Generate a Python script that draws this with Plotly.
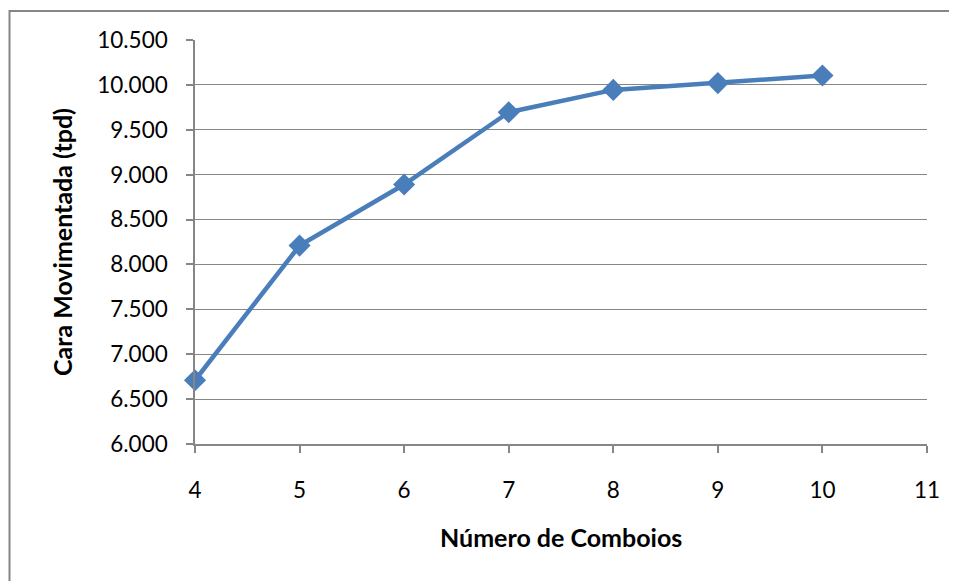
import plotly.graph_objects as go

comboios = [4, 5, 6, 7, 8, 9, 10]
carga = [6710, 8210, 8890, 9695, 9944, 10020, 10105]
y_ticks = [6000, 6500, 7000, 7500, 8000, 8500, 9000, 9500, 10000, 10500]
x_ticks = [4, 5, 6, 7, 8, 9, 10, 11]

# page has an 8px body margin; compensate so the plot lands where the reference has it
OFF = 8
W, H = 957 - OFF, 581 - OFF
L, R, T, B = 195 - OFF, 30, 40 - OFF, 137
pw, ph = W - L - R, H - T - B

grey = "#868686"
font = "Lato, 'Open Sans', sans-serif"

fig = go.Figure()
fig.add_trace(go.Scatter(
    x=comboios, y=carga, mode="lines+markers",
    line=dict(color="#4a7ebb", width=4.5),
    marker=dict(symbol="diamond", size=17, color="#4a7ebb"),
    showlegend=False, cliponaxis=False,
))

fig.update_layout(
    width=W, height=H,
    margin=dict(l=L, r=R, t=T, b=B),
    paper_bgcolor="white", plot_bgcolor="white",
    separators=",.",
    font=dict(family=font, size=22.5, color="#000000"),
    xaxis=dict(
        range=[4, 11], tickvals=x_ticks, showgrid=False,
        showline=True, linecolor=grey, linewidth=1.5,
        ticks="outside", ticklen=7, tickcolor=grey, tickwidth=1.5,
        ticklabelstandoff=18, zeroline=False,
    ),
    yaxis=dict(
        range=[6000, 10500], tickvals=y_ticks, tickformat=",",
        showgrid=True, gridcolor=grey, gridwidth=1.2,
        showline=True, linecolor=grey, linewidth=1.5,
        ticks="outside", ticklen=7, tickcolor=grey, tickwidth=1.5,
        ticklabelstandoff=14, zeroline=False,
    ),
    shapes=[dict(
        type="rect", xref="paper", yref="paper",
        x0=(9.5 - OFF - L) / pw, x1=1.2, y0=-0.6, y1=(H - B - (11 - OFF)) / ph,
        line=dict(color=grey, width=2), fillcolor="rgba(0,0,0,0)", layer="below",
    )],
    annotations=[
        dict(text="<b>Número de Comboios</b>", xref="paper", yref="paper",
             x=0.5, y=(H - B - (537 - OFF)) / ph, showarrow=False,
             font=dict(family=font, size=25), xanchor="center", yanchor="middle"),
        dict(text="<b>Cara Movimentada (tpd)</b>", xref="paper", yref="paper",
             x=(62 - OFF - L) / pw, y=0.5, showarrow=False, textangle=-90,
             font=dict(family=font, size=25), xanchor="center", yanchor="middle"),
    ],
)

fig.write_html("out.html")
